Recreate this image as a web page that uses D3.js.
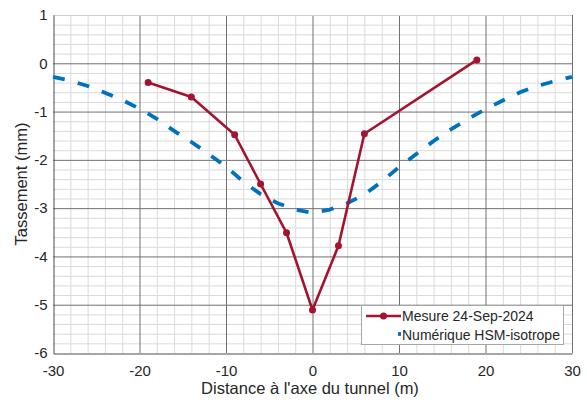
<!DOCTYPE html>
<html>
<head>
<meta charset="utf-8">
<script src="https://cdn.jsdelivr.net/npm/d3@7"></script>
<style>
  html, body { margin: 0; padding: 0; background: #fff; }
  svg { display: block; }
  text { font-family: "Liberation Sans", Arial, sans-serif; fill: #262626; }
</style>
</head>
<body>
<svg id="chart" width="587" height="403"></svg>
<script>
// Measured settlement profile
const measX = [-19, -14, -9, -6, -3, 0, 3, 6, 19];
const measY = [-0.40, -0.70, -1.48, -2.50, -3.51, -5.11, -3.78, -1.46, 0.07];

// Numerical (HSM isotropic) settlement trough
const numX = [-30, -28, -26, -24, -22, -20, -18, -16, -14, -12, -10, -8, -6, -4, -2, 0,
              2, 4, 6, 8, 10, 12, 14, 16, 18, 20, 22, 24, 26, 28, 30];
const numY = [-0.28, -0.36, -0.47, -0.61, -0.76, -0.94, -1.15, -1.40, -1.63, -1.88, -2.14,
              -2.45, -2.71, -2.90, -3.03, -3.10, -3.03, -2.90, -2.72, -2.45, -2.15, -1.88,
              -1.61, -1.37, -1.15, -0.95, -0.77, -0.60, -0.47, -0.37, -0.28];

const xTicks = [-30, -20, -10, 0, 10, 20, 30];
const yTicks = [-6, -5, -4, -3, -2, -1, 0, 1];
const xMinor = [-28, -26, -24, -22, -18, -16, -14, -12, -8, -6, -4, -2,
                2, 4, 6, 8, 12, 14, 16, 18, 22, 24, 26, 28];
const yMinor = [-5.8, -5.6, -5.4, -5.2, -4.8, -4.6, -4.4, -4.2, -3.8, -3.6, -3.4, -3.2,
                -2.8, -2.6, -2.4, -2.2, -1.8, -1.6, -1.4, -1.2, -0.8, -0.6, -0.4, -0.2,
                0.2, 0.4, 0.6, 0.8];

const seriesNames = ["Mesure 24-Sep-2024", "Numérique HSM-isotrope"];
const colors = ["#A2142F", "#0072BD"];

const L = 53, R = 572, T = 15, B = 353;
const svg = d3.select("#chart");

const x = d3.scaleLinear().domain([-30, 30]).range([L, R]);
const y = d3.scaleLinear().domain([-6, 1]).range([B, T]);

// Grid: minor then major
const grid = svg.append("g");
grid.selectAll(".vmin").data(xMinor).join("line")
  .attr("x1", d => x(d) + 0.5).attr("x2", d => x(d) + 0.5)
  .attr("y1", T).attr("y2", B)
  .attr("stroke", "#dadada").attr("stroke-width", 1);
grid.selectAll(".hmin").data(yMinor).join("line")
  .attr("y1", d => y(d) + 0.5).attr("y2", d => y(d) + 0.5)
  .attr("x1", L).attr("x2", R)
  .attr("stroke", "#dadada").attr("stroke-width", 1);
grid.selectAll(".vmaj").data(xTicks.slice(1)).join("line")
  .attr("x1", d => x(d) + 0.5).attr("x2", d => x(d) + 0.5)
  .attr("y1", T).attr("y2", B)
  .attr("stroke", "#707070").attr("stroke-width", 1);
grid.selectAll(".hmaj").data(yTicks.slice(1, -1)).join("line")
  .attr("y1", d => y(d) + 0.5).attr("y2", d => y(d) + 0.5)
  .attr("x1", L).attr("x2", R)
  .attr("stroke", "#707070").attr("stroke-width", 1);
// top edge
grid.append("line").attr("x1", L).attr("x2", R).attr("y1", T + 0.5).attr("y2", T + 0.5)
  .attr("stroke", "#cfcfcf");

// Axes
const fmt = d => d3.format("d")(d).replace("−", "-");
const xAxis = d3.axisBottom(x).tickValues(xTicks).tickSize(0).tickPadding(12).tickFormat(fmt);
const yAxis = d3.axisLeft(y).tickValues(yTicks).tickSize(0).tickPadding(6).tickFormat(fmt);

const gx = svg.append("g").attr("transform", `translate(0,${B + 0.5})`).call(xAxis);
const gy = svg.append("g").attr("transform", `translate(${L + 0.5},0)`).call(yAxis);
[gx, gy].forEach(g => {
  g.select(".domain").attr("stroke", "#4d4d4d").attr("stroke-width", 1);
  g.selectAll("text").attr("font-size", 15).style("font-family", "'Liberation Sans', Arial, sans-serif")
    .attr("fill", "#262626");
});

// Axis titles
svg.append("text").attr("x", 310).attr("y", 394)
  .attr("text-anchor", "middle").attr("font-size", 16.5)
  .text("Distance à l'axe du tunnel (m)");
svg.append("text")
  .attr("transform", `translate(27,${(T + B) / 2}) rotate(-90)`)
  .attr("text-anchor", "middle").attr("font-size", 16.5)
  .text("Tassement (mm)");

// Series
const numData = numX.map((v, i) => [v, numY[i]]);
const measData = measX.map((v, i) => [v, measY[i]]);
const line = d3.line().x(d => x(d[0])).y(d => y(d[1]));

svg.append("path").datum(numData)
  .attr("d", line).attr("fill", "none")
  .attr("stroke", colors[1]).attr("stroke-width", 3.8)
  .attr("stroke-dasharray", "12,13.5");

svg.append("path").datum(measData)
  .attr("d", line).attr("fill", "none")
  .attr("stroke", colors[0]).attr("stroke-width", 2.6)
  .attr("stroke-linejoin", "round");
svg.selectAll(".mk").data(measData).join("circle")
  .attr("cx", d => x(d[0])).attr("cy", d => y(d[1])).attr("r", 3.5)
  .attr("fill", colors[0]);

// Legend
const lg = svg.append("g").attr("transform", "translate(361,305)");
lg.append("rect").attr("x", 0.5).attr("y", 0.5).attr("width", 202).attr("height", 39)
  .attr("fill", "#fff").attr("stroke", "#a6a6a6").attr("stroke-width", 1);
lg.append("line").attr("x1", 5).attr("x2", 40).attr("y1", 11).attr("y2", 11)
  .attr("stroke", colors[0]).attr("stroke-width", 2.6);
lg.append("circle").attr("cx", 22.5).attr("cy", 11).attr("r", 3.5).attr("fill", colors[0]);
lg.append("line").attr("x1", 37).attr("x2", 40).attr("y1", 29).attr("y2", 29)
  .attr("stroke", colors[1]).attr("stroke-width", 3.8);
lg.selectAll(".lt").data(seriesNames).join("text")
  .attr("x", 41).attr("y", (d, i) => 16 + i * 18.5)
  .attr("font-size", 14).text(d => d);
</script>
</body>
</html>
